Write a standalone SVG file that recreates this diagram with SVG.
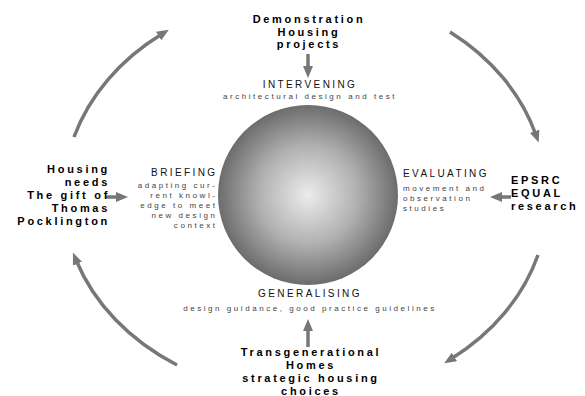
<svg xmlns="http://www.w3.org/2000/svg" width="585" height="396" viewBox="0 0 585 396">
<defs>
<radialGradient id="ball" cx="50%" cy="50%" r="50%">
<stop offset="0" stop-color="#ececec"/>
<stop offset="0.55" stop-color="#b0b0b0"/>
<stop offset="1" stop-color="#6c6c6c"/>
</radialGradient>
<marker id="ah" markerUnits="userSpaceOnUse" markerWidth="12" markerHeight="10" viewBox="0 0 12 10" refX="4" refY="5" orient="auto">
<path d="M0,0 L12,5 L0,10 z" fill="#777"/>
</marker>
<style>
.bold{font-family:"Liberation Sans",Arial,sans-serif;font-weight:bold;font-size:11px;letter-spacing:2.7px;fill:#000}
.head{font-family:"Liberation Sans",Arial,sans-serif;font-size:10px;letter-spacing:2.4px;fill:#111}
.sub{font-family:"Liberation Sans",Arial,sans-serif;font-size:8px;letter-spacing:2.55px;fill:#444}
.con{fill:none;stroke:#777;stroke-width:3.5;marker-end:url(#ah)}
</style>
</defs>
<rect width="585" height="396" fill="#fff"/>
<g id="connectors">
<path class="con" d="M74,137 A240,200 0 0 1 162,34"/>
<path class="con" d="M450,32 A240,200 0 0 1 536,135"/>
<path class="con" d="M538,255 A240,200 0 0 1 451,359"/>
<path class="con" d="M177,365 A240,200 0 0 1 76,260"/>
<path class="con" d="M308,54 L308,70"/>
<path class="con" d="M106,197 L120,197"/>
<path class="con" d="M511,197 L498,197"/>
<path class="con" d="M308,347 L308,327"/>
</g>
<g id="core">
<circle cx="308" cy="195" r="90" fill="url(#ball)"/>
</g>
<g id="demonstration">
<text class="bold" text-anchor="middle" x="309" y="23">Demonstration</text>
<text class="bold" text-anchor="middle" x="309" y="35.5">Housing</text>
<text class="bold" text-anchor="middle" x="309" y="48">projects</text>
</g>
<g id="intervening">
<text class="head" text-anchor="middle" x="310" y="88">INTERVENING</text>
<text class="sub" text-anchor="middle" x="310" y="99">architectural design and test</text>
</g>
<g id="housing-needs">
<text class="bold" text-anchor="end" x="110" y="173">Housing</text>
<text class="bold" text-anchor="end" x="110" y="186">needs</text>
<text class="bold" text-anchor="end" x="110" y="199">The gift of</text>
<text class="bold" text-anchor="end" x="110" y="212">Thomas</text>
<text class="bold" text-anchor="end" x="110" y="225">Pocklington</text>
</g>
<g id="briefing">
<text class="head" text-anchor="end" x="217.5" y="176">BRIEFING</text>
<text class="sub" text-anchor="end" x="217.5" y="187.5">adapting cur-</text>
<text class="sub" text-anchor="end" x="217.5" y="197.5">rent knowl-</text>
<text class="sub" text-anchor="end" x="217.5" y="207.5">edge to meet</text>
<text class="sub" text-anchor="end" x="217.5" y="217.5">new design</text>
<text class="sub" text-anchor="end" x="217.5" y="227.5">context</text>
</g>
<g id="evaluating">
<text class="head" x="403" y="177">EVALUATING</text>
<text class="sub" x="403" y="191">movement and</text>
<text class="sub" x="403" y="201">observation</text>
<text class="sub" x="403" y="211">studies</text>
</g>
<g id="epsrc">
<text class="bold" x="511" y="184">EPSRC</text>
<text class="bold" x="511" y="197">EQUAL</text>
<text class="bold" x="511" y="210">research</text>
</g>
<g id="generalising">
<text class="head" text-anchor="middle" x="310" y="297">GENERALISING</text>
<text class="sub" text-anchor="middle" x="310" y="311">design guidance, good practice guidelines</text>
</g>
<g id="transgenerational">
<text class="bold" text-anchor="middle" x="311" y="356">Transgenerational</text>
<text class="bold" text-anchor="middle" x="311" y="369">Homes</text>
<text class="bold" text-anchor="middle" x="311" y="382">strategic housing</text>
<text class="bold" text-anchor="middle" x="311" y="394.5">choices</text>
</g>
</svg>
